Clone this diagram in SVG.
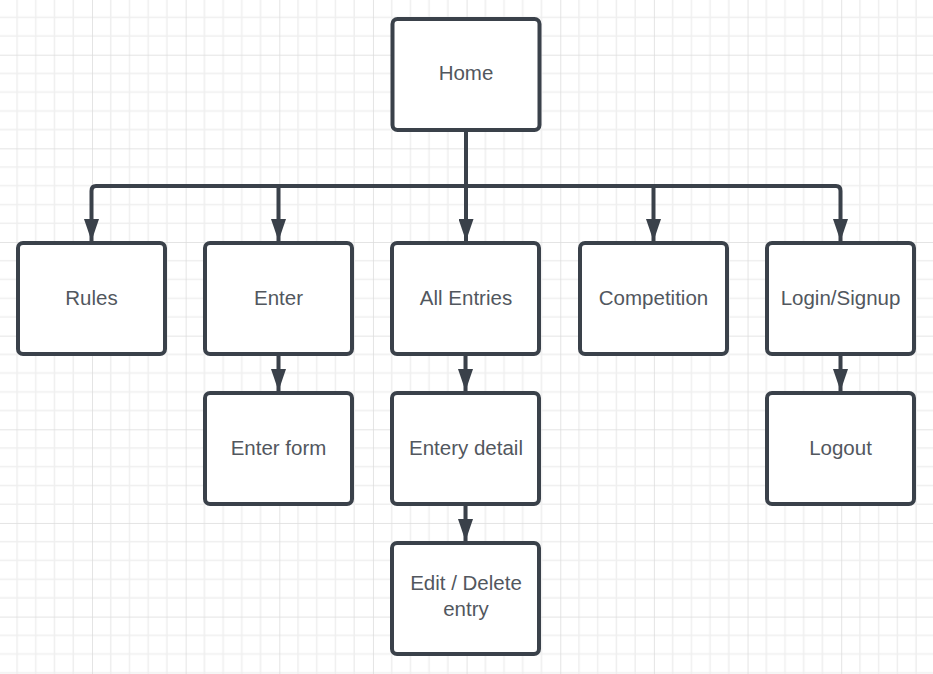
<svg xmlns="http://www.w3.org/2000/svg" width="933" height="674" viewBox="0 0 933 674">
<defs>
<pattern id="grid" patternUnits="userSpaceOnUse" x="-1.65" y="-38.95" width="93.65" height="93.65">
<g stroke="#efefef" stroke-width="1.5" fill="none">
<path d="M18.73 0V93.65M37.46 0V93.65M56.19 0V93.65M74.92 0V93.65M0 18.73H93.65M0 37.46H93.65M0 56.19H93.65M0 74.92H93.65"/>
</g>
<path d="M0 0V93.65M0 0H93.65" stroke="#dcdcdc" stroke-width="1.5" fill="none"/>
</pattern>
<marker id="arr" markerUnits="userSpaceOnUse" markerWidth="22" markerHeight="15" refX="22" refY="7.5" orient="auto" viewBox="0 0 22 15">
<path d="M0 0L22 7.5L0 15Z" fill="#3a414a"/>
</marker>
<style>
.box{fill:#ffffff;stroke:#3a414a;stroke-width:4}
.lbl{font-family:"Liberation Sans",Arial,sans-serif;font-size:20.5px;fill:#52575e;text-anchor:middle}
.con{fill:none;stroke:#3a414a;stroke-width:4;stroke-linejoin:round}
</style>
</defs>
<rect width="933" height="674" fill="#ffffff"/>
<rect width="933" height="674" fill="url(#grid)"/>

<g id="connectors">
<path class="con" d="M466 131V186"/>
<path class="con" d="M466 186H96Q91.5 186 91.5 191V241" marker-end="url(#arr)"/>
<path class="con" d="M278.5 186V241" marker-end="url(#arr)"/>
<path class="con" d="M466 186V241" marker-end="url(#arr)"/>
<path class="con" d="M653.5 186V241" marker-end="url(#arr)"/>
<path class="con" d="M466 186H836Q840.5 186 840.5 191V241" marker-end="url(#arr)"/>
<path class="con" d="M278.5 356V391" marker-end="url(#arr)"/>
<path class="con" d="M465.5 356V391" marker-end="url(#arr)"/>
<path class="con" d="M840.5 356V391" marker-end="url(#arr)"/>
<path class="con" d="M465.5 506V541" marker-end="url(#arr)"/>
</g>

<g id="home"><rect class="box" x="392.5" y="19" width="147" height="111" rx="5"/><text class="lbl" x="466" y="80">Home</text></g>
<g id="rules"><rect class="box" x="18" y="243" width="147" height="111" rx="5"/><text class="lbl" x="91.5" y="305">Rules</text></g>
<g id="enter"><rect class="box" x="205" y="243" width="147" height="111" rx="5"/><text class="lbl" x="278.5" y="305">Enter</text></g>
<g id="all-entries"><rect class="box" x="392" y="243" width="147" height="111" rx="5"/><text class="lbl" x="466" y="305">All Entries</text></g>
<g id="competition"><rect class="box" x="580" y="243" width="147" height="111" rx="5"/><text class="lbl" x="653.5" y="305">Competition</text></g>
<g id="login-signup"><rect class="box" x="767" y="243" width="147" height="111" rx="5"/><text class="lbl" x="840.5" y="305">Login/Signup</text></g>
<g id="enter-form"><rect class="box" x="205" y="393" width="147" height="111" rx="5"/><text class="lbl" x="278.5" y="455">Enter form</text></g>
<g id="entery-detail"><rect class="box" x="392" y="393" width="147" height="111" rx="5"/><text class="lbl" x="466" y="455">Entery detail</text></g>
<g id="logout"><rect class="box" x="767" y="393" width="147" height="111" rx="5"/><text class="lbl" x="840.5" y="455">Logout</text></g>
<g id="edit-delete"><rect class="box" x="392" y="543" width="147" height="111" rx="5"/><text class="lbl" x="466" y="590">Edit / Delete</text><text class="lbl" x="466" y="616">entry</text></g>
</svg>
